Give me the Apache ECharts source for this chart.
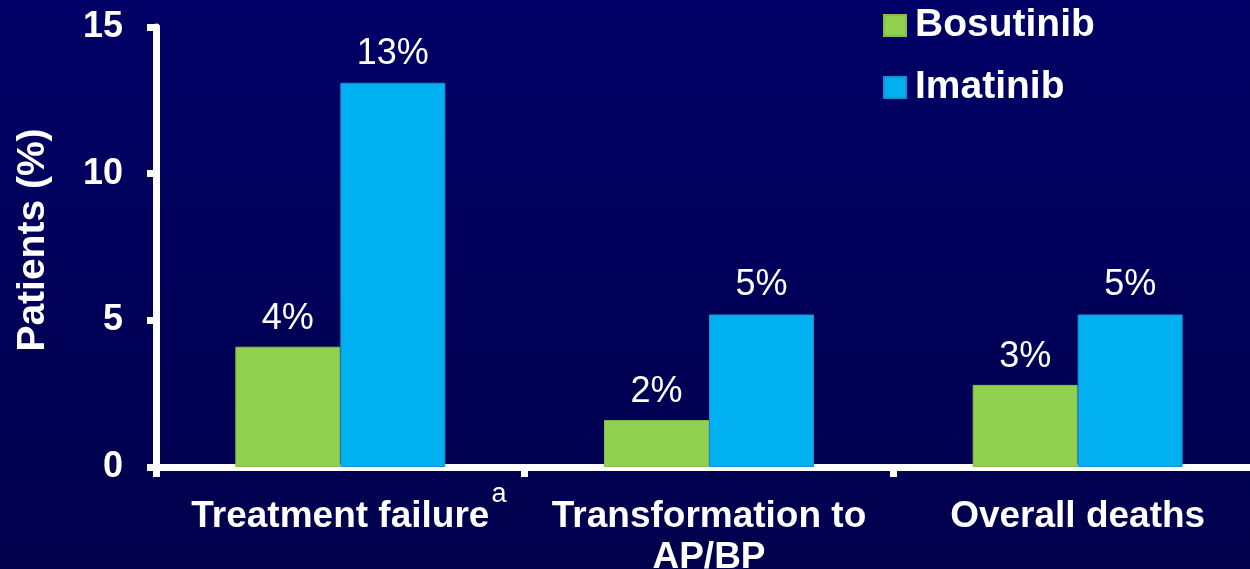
<!DOCTYPE html>
<html>
<head>
<meta charset="utf-8">
<title>Patients (%) – Bosutinib vs Imatinib</title>
<script src="https://cdn.jsdelivr.net/npm/echarts@6/dist/echarts.min.js"></script>
<style>
  html, body { margin: 0; padding: 0; background: #000060; }
  #chart { width: 1250px; height: 569px; }
</style>
</head>
<body>
<div id="chart"></div>
<script>
// Outcome categories (second line after \n) and their footnote markers
const categories = ['Treatment failure', 'Transformation to\nAP/BP', 'Overall deaths'];
const footnotes = ['a', '', ''];

// Percent of patients per arm
const bosutinib = [4.1, 1.6, 2.8];
const imatinib = [13.1, 5.2, 5.2];

const seriesNames = ['Bosutinib', 'Imatinib'];
const yTicks = { min: 0, max: 15, interval: 5 };

const FONT = "Arial, 'Liberation Sans', sans-serif";
const WHITE = '#ffffff';
const GREEN = '#92d050';
const BLUE = '#00b0f0';

const chart = echarts.init(document.getElementById('chart'), null, { renderer: 'canvas' });

function categoryLabel(value, idx) {
  const lines = value.split('\n');
  const mark = footnotes[idx] || '';
  let first = '{m|' + lines[0] + '}';
  if (mark) {
    // balance the superscript so the main words stay centred
    first = '{lp|}' + first + '{s|' + mark + '}';
  }
  const rest = lines.slice(1).map(l => '{n|' + l + '}');
  return [first].concat(rest).join('\n');
}

const option = {
  backgroundColor: {
    type: 'linear', x: 0, y: 0, x2: 0, y2: 1,
    colorStops: [
      { offset: 0, color: '#000066' },
      { offset: 1, color: '#00004c' }
    ]
  },
  textStyle: { fontFamily: FONT },
  animation: false,
  legend: {
    orient: 'vertical',
    left: 878,
    top: 0,
    itemWidth: 22,
    itemHeight: 21,
    itemGap: 21,
    icon: 'rect',
    data: seriesNames,
    textStyle: {
      color: WHITE,
      fontFamily: FONT,
      fontSize: 39,
      fontWeight: 'bold',
      lineHeight: 39,
      padding: [2, 0, 0, 4]
    }
  },
  grid: {
    left: 156,
    top: 27,
    width: 1106,
    height: 440,
    containLabel: false,
    outerBoundsMode: 'none'
  },
  xAxis: {
    type: 'category',
    data: categories,
    boundaryGap: true,
    axisLine: { show: true, lineStyle: { color: WHITE, width: 7 } },
    axisTick: { show: true, length: 10, lineStyle: { color: WHITE, width: 7 } },
    splitLine: { show: false },
    axisLabel: {
      interval: 0,
      margin: 14,
      color: WHITE,
      formatter: categoryLabel,
      rich: {
        m: { fontFamily: FONT, fontSize: 37, fontWeight: 'bold', color: WHITE, lineHeight: 54, verticalAlign: 'bottom' },
        n: { fontFamily: FONT, fontSize: 37, fontWeight: 'bold', color: WHITE, lineHeight: 46 },
        s: { fontFamily: FONT, fontSize: 27, fontWeight: 'normal', color: WHITE, lineHeight: 27, verticalAlign: 'top', padding: [0, 0, 0, 2] },
        lp: { fontSize: 27, lineHeight: 27, width: 17 }
      }
    }
  },
  yAxis: {
    type: 'value',
    min: yTicks.min,
    max: yTicks.max,
    interval: yTicks.interval,
    name: 'Patients (%)',
    nameLocation: 'middle',
    nameGap: 103,
    nameTextStyle: {
      color: WHITE,
      fontFamily: FONT,
      fontSize: 39,
      fontWeight: 'bold',
      lineHeight: 39,
      padding: [0, 0, 0, 14]
    },
    axisLine: { show: true, lineStyle: { color: WHITE, width: 7 } },
    axisTick: { show: true, length: 9, lineStyle: { color: WHITE, width: 7 } },
    splitLine: { show: false },
    axisLabel: {
      margin: 33,
      color: WHITE,
      fontFamily: FONT,
      fontSize: 36,
      fontWeight: 'bold'
    }
  },
  series: [
    {
      name: seriesNames[0],
      type: 'bar',
      data: bosutinib,
      barWidth: 105,
      barGap: '0%',
      itemStyle: { color: GREEN, borderColor: '#84bd48', borderWidth: 1 },
      label: {
        show: true,
        position: 'top',
        distance: 10,
        color: WHITE,
        fontFamily: FONT,
        fontSize: 36,
        lineHeight: 36,
        formatter: p => Math.round(p.value) + '%'
      },
      z: 1
    },
    {
      name: seriesNames[1],
      type: 'bar',
      data: imatinib,
      barWidth: 105,
      barGap: '0%',
      itemStyle: { color: BLUE, borderColor: '#1a8fd0', borderWidth: 1 },
      label: {
        show: true,
        position: 'top',
        distance: 11,
        color: WHITE,
        fontFamily: FONT,
        fontSize: 36,
        lineHeight: 36,
        formatter: p => Math.round(p.value) + '%'
      },
      z: 1
    }
  ]
};

chart.setOption(option);
</script>
</body>
</html>
